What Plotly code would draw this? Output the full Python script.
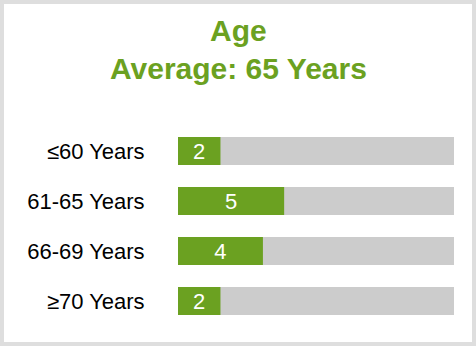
import plotly.graph_objects as go

categories = ["≤60 Years", "61-65 Years", "66-69 Years", "≥70 Years"]
counts = [2, 5, 4, 2]
total = sum(counts)
track = [total] * len(categories)
title_line1 = "Age"
title_line2 = "Average: 65 Years"

GREEN = "#6ba121"
GRAY = "#cccccc"
FONT = "Liberation Sans, Arial, sans-serif"

W, H = 476, 346
ML, MR, MT, MB = 178, 22, 126, 20
PW = W - ML - MR
PH = H - MT - MB


def px_x(p):
    return (p - ML) / PW


def px_y(p):
    return (H - MB - p) / PH


fig = go.Figure()
fig.add_trace(go.Bar(
    y=categories, x=track, orientation="h", marker=dict(color=GRAY, line=dict(width=0)),
    hoverinfo="skip", showlegend=False,
))
fig.add_trace(go.Bar(
    y=categories, x=counts, orientation="h", marker=dict(color=GREEN, line=dict(width=0)),
    text=[str(c) for c in counts], textposition="inside", insidetextanchor="middle",
    textangle=0,
    textfont=dict(color="white", size=22, family=FONT), constraintext="none",
    showlegend=False,
))

fig.add_annotation(text=f"<b>{title_line1}</b>", x=px_x(238), xref="paper", xanchor="center",
                   y=px_y(31), yref="paper", yanchor="middle", showarrow=False,
                   font=dict(size=30, color=GREEN, family=FONT))
fig.add_annotation(text=f"<b>{title_line2}</b>", x=px_x(238), xref="paper", xanchor="center",
                   y=px_y(68), yref="paper", yanchor="middle", showarrow=False,
                   font=dict(size=30, color=GREEN, family=FONT))

fig.add_shape(type="rect", xref="paper", yref="paper",
              x0=px_x(2), x1=px_x(474), y0=px_y(2), y1=px_y(344),
              line=dict(color="#dedede", width=4), fillcolor="rgba(0,0,0,0)", layer="below")

fig.update_layout(
    width=W, height=H, margin=dict(l=ML, r=MR, t=MT, b=MB),
    barmode="overlay", bargap=0.44,
    paper_bgcolor="white", plot_bgcolor="white",
    font=dict(family=FONT),
    xaxis=dict(range=[0, total], visible=False, showgrid=False, zeroline=False, fixedrange=True),
    yaxis=dict(autorange="reversed", showgrid=False, zeroline=False, showline=False,
               ticks="outside", ticklen=28, tickcolor="rgba(0,0,0,0)",
               tickfont=dict(size=22, color="#000000", family=FONT), fixedrange=True),
)

fig.write_html("out.html", config={"displayModeBar": False})
